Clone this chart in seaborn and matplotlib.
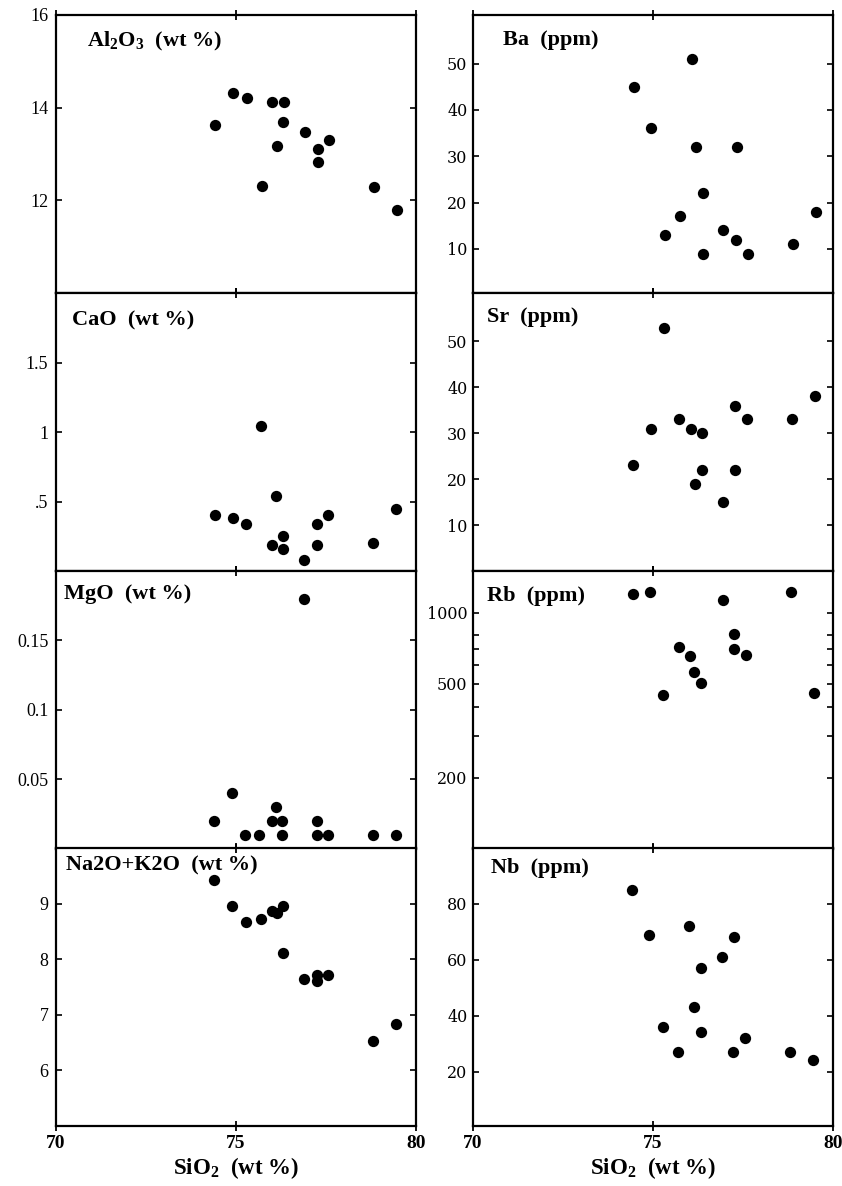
import matplotlib
matplotlib.use("Agg")
import matplotlib.pyplot as plt
import seaborn as sns
from matplotlib.ticker import FixedLocator, NullFormatter

# SiO2 (wt %) vs. oxide / trace element
al_x = [74.42, 74.93, 75.30, 75.71, 76.01, 76.13, 76.31, 76.33, 76.92, 77.27, 77.27, 77.58, 78.84, 79.46]
al_y = [13.62, 14.32, 14.20, 12.30, 14.13, 13.17, 13.70, 14.13, 13.48, 13.10, 12.83, 13.30, 12.29, 11.78]

ba_x = [74.48, 74.94, 75.33, 75.75, 76.07, 76.19, 76.38, 76.38, 76.95, 77.31, 77.33, 77.63, 78.90, 79.53]
ba_y = [45, 36, 13, 17, 51, 32, 22, 9, 14, 12, 32, 9, 11, 18]

cao_x = [74.42, 74.91, 75.27, 75.69, 76.01, 76.11, 76.30, 76.30, 76.89, 77.25, 77.25, 77.56, 78.81, 79.44]
cao_y = [0.40, 0.38, 0.34, 1.04, 0.19, 0.54, 0.25, 0.16, 0.08, 0.34, 0.19, 0.40, 0.20, 0.45]

sr_x = [74.44, 74.93, 75.31, 75.73, 76.06, 76.17, 76.35, 76.35, 76.94, 77.28, 77.28, 77.60, 78.85, 79.50]
sr_y = [23, 31, 53, 33, 31, 19, 30, 22, 15, 36, 22, 33, 33, 38]

mgo_x = [74.40, 74.90, 75.25, 75.65, 76.00, 76.10, 76.29, 76.29, 76.89, 77.24, 77.24, 77.55, 78.80, 79.43]
mgo_y = [0.02, 0.04, 0.01, 0.01, 0.02, 0.03, 0.02, 0.01, 0.18, 0.02, 0.01, 0.01, 0.01, 0.01]

rb_x = [74.43, 74.92, 75.29, 75.71, 76.03, 76.15, 76.33, 76.93, 77.26, 77.26, 77.58, 78.83, 79.47]
rb_y = [1200, 1220, 450, 714, 658, 560, 505, 1130, 811, 703, 662, 1220, 457]

alk_x = [74.40, 74.90, 75.27, 75.69, 75.99, 76.13, 76.31, 76.30, 76.89, 77.24, 77.24, 77.56, 78.80, 79.44]
alk_y = [9.43, 8.96, 8.67, 8.73, 8.86, 8.83, 8.96, 8.12, 7.64, 7.72, 7.61, 7.72, 6.52, 6.84]

nb_x = [74.41, 74.90, 75.29, 75.69, 76.01, 76.14, 76.33, 76.33, 76.91, 77.23, 77.26, 77.56, 78.81, 79.45]
nb_y = [85, 69, 36, 27, 72, 43, 57, 34, 61, 27, 68, 32, 27, 24]

sns.set_style("ticks")
plt.rcParams["font.family"] = ["Liberation Serif", "DejaVu Serif"]
plt.rcParams["mathtext.fontset"] = "custom"
plt.rcParams["mathtext.rm"] = "Liberation Serif:bold"
plt.rcParams["mathtext.bf"] = "Liberation Serif:bold"
plt.rcParams["mathtext.default"] = "rm"
for key in ["text.color", "axes.labelcolor", "xtick.color", "ytick.color", "axes.edgecolor"]:
    plt.rcParams[key] = "black"

fig = plt.figure(figsize=(8.42, 11.86), dpi=100)

left_x, right_x, w = 0.0665, 0.5618, 0.4276
bottoms = [0.7530, 0.5185, 0.2842, 0.0506]
h = 0.2344

panels = [
    # (col, row, x, y, title, title pos, ylim, yticks, yticklabels)
    (0, 0, al_x, al_y, r"Al$_2$O$_3$  (wt %)", (0.086, 0.903), (10, 16), [12, 14, 16], ["12", "14", "16"]),
    (1, 0, ba_x, ba_y, "Ba  (ppm)", (0.083, 0.91), (0.5, 60.5), [10, 20, 30, 40, 50], ["10", "20", "30", "40", "50"]),
    (0, 1, cao_x, cao_y, "CaO  (wt %)", (0.044, 0.903), (0, 2), [0.5, 1, 1.5], [".5", "1", "1.5"]),
    (1, 1, sr_x, sr_y, "Sr  (ppm)", (0.039, 0.915), (0, 60.5), [10, 20, 30, 40, 50], ["10", "20", "30", "40", "50"]),
    (0, 2, mgo_x, mgo_y, "MgO  (wt %)", (0.022, 0.917), (0, 0.2), [0.05, 0.1, 0.15], ["0.05", "0.1", "0.15"]),
    (1, 2, rb_x, rb_y, "Rb  (ppm)", (0.039, 0.91), (100, 1500), [200, 500, 1000], ["200", "500", "1000"]),
    (0, 3, alk_x, alk_y, "Na2O+K2O  (wt %)", (0.028, 0.936), (5, 10), [6, 7, 8, 9], ["6", "7", "8", "9"]),
    (1, 3, nb_x, nb_y, "Nb  (ppm)", (0.05, 0.927), (0.5, 100), [20, 40, 60, 80], ["20", "40", "60", "80"]),
]

for col, row, xs, ys, title, tpos, ylim, yt, ytl in panels:
    ax = fig.add_axes([left_x if col == 0 else right_x, bottoms[row], w, h])
    if title.startswith("Rb"):
        ax.set_yscale("log")
    sns.scatterplot(x=xs, y=ys, ax=ax, color="black", s=66, linewidth=0, legend=False)
    ax.set_xlim(70, 80)
    ax.set_ylim(*ylim)
    ax.set_xticks([70, 75, 80])
    ax.set_yticks(yt)
    if col == 0:
        ax.set_yticklabels(ytl, fontsize=13)
    else:
        ax.set_yticklabels(ytl, fontsize=11.5, family="DejaVu Serif")
    if title.startswith("Rb"):
        ax.yaxis.set_minor_locator(FixedLocator([300, 400, 600, 700, 800]))
        ax.yaxis.set_minor_formatter(NullFormatter())
        ax.tick_params(axis="y", which="minor", direction="in", length=4, width=1.2, left=True, right=True)
    ax.tick_params(axis="x", which="major", direction="inout", length=7, width=1.3, top=True, bottom=True,
                   labelsize=14, pad=3)
    ax.tick_params(axis="y", which="major", direction="in", length=4.5, width=1.2, left=True, right=True,
                   pad=5.5 if col == 0 else 4)
    for sp in ax.spines.values():
        sp.set_linewidth(1.6)
    ax.text(tpos[0], tpos[1], title, transform=ax.transAxes, fontsize=16, fontweight="bold",
            ha="left", va="center")
    if row == 3:
        ax.set_xticklabels(["70", "75", "80"], fontweight="bold")
        ax.set_xlabel(r"SiO$_2$  (wt %)", fontsize=16.5, fontweight="bold", labelpad=2)
    else:
        ax.set_xticklabels([])
    ax.set_ylabel("")

fig.savefig("out.png", dpi=100)
